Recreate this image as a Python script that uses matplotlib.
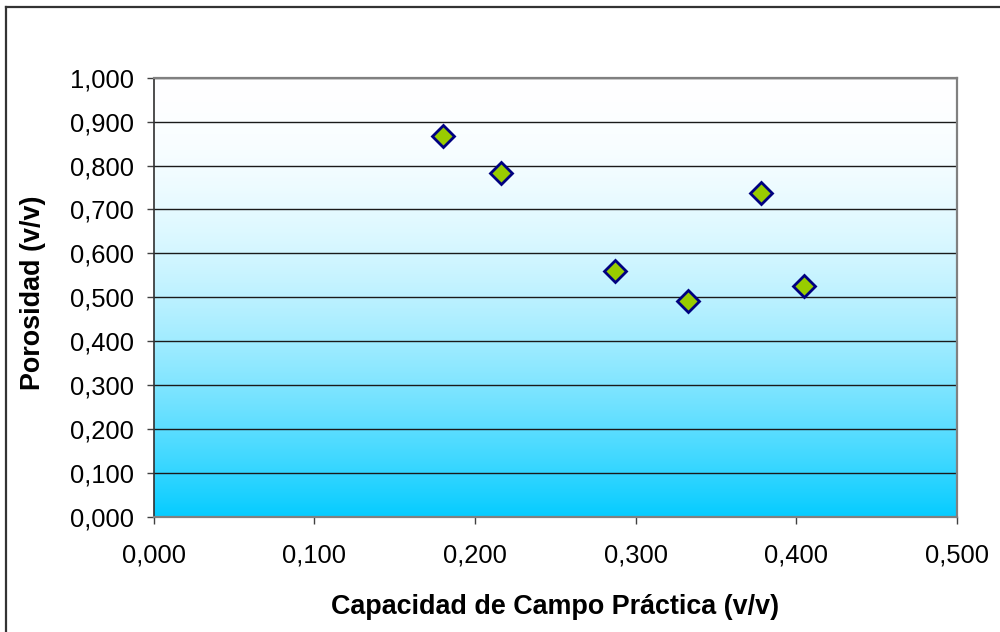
import numpy as np
import matplotlib
matplotlib.use("Agg")
import matplotlib.pyplot as plt
from matplotlib.colors import to_rgb
from matplotlib.lines import Line2D
from matplotlib.ticker import FuncFormatter, MultipleLocator

# Field capacity vs porosity per sample
capacidad_campo = [0.180, 0.216, 0.287, 0.333, 0.378, 0.405]
porosidad = [0.867, 0.782, 0.559, 0.492, 0.738, 0.525]

x_label = "Capacidad de Campo Práctica (v/v)"
y_label = "Porosidad (v/v)"

plt.rcParams["font.family"] = ["Liberation Sans", "DejaVu Sans"]

fig = plt.figure(figsize=(10, 6.32), dpi=100)
fig.patch.set_facecolor("white")

ax = fig.add_axes([0.1537, 0.1824, 0.803, 0.6946])
ax.set_xlim(0, 0.5)
ax.set_ylim(0, 1.0)

# Vertical background gradient: white at the top easing into sky blue
top = np.array(to_rgb("#FFFFFF"))
bottom = np.array(to_rgb("#05CCFF"))
t = np.linspace(0, 1, 512)[:, None]  # 0 = top, 1 = bottom
f = t ** 1.9
grad = top[None, :] * (1 - f) + bottom[None, :] * f
grad = np.repeat(grad[:, None, :], 2, axis=1)
ax.imshow(grad, extent=[0, 0.5, 0, 1.0], aspect="auto", origin="upper",
          zorder=0, interpolation="bilinear")

# Horizontal grid lines
ax.set_axisbelow(True)
ax.yaxis.grid(True, color="#1a1a1a", linewidth=1.0)
ax.xaxis.grid(False)

ax.plot(capacidad_campo, porosidad, linestyle="none", marker="D",
        markersize=11.5, markerfacecolor="#99CC00", markeredgecolor="#000080",
        markeredgewidth=2.0, zorder=3, clip_on=False)

ax.xaxis.set_major_locator(MultipleLocator(0.1))
ax.yaxis.set_major_locator(MultipleLocator(0.1))
fmt = FuncFormatter(lambda v, pos: f"{v:.3f}".replace(".", ","))
ax.xaxis.set_major_formatter(fmt)
ax.yaxis.set_major_formatter(fmt)

ax.tick_params(axis="both", direction="out", length=5, width=1.0,
               color="#404040", labelsize=18.4, labelcolor="black")
ax.tick_params(axis="x", pad=14)
ax.tick_params(axis="y", pad=9.5)

for side in ["top", "right", "bottom"]:
    ax.spines[side].set_color("#808080")
    ax.spines[side].set_linewidth(1.6)
ax.spines["left"].set_color("#303030")
ax.spines["left"].set_linewidth(1.2)

ax.set_xlabel(x_label, fontsize=19.4, fontweight="bold", va="center")
ax.xaxis.set_label_coords(0.5, -0.205)
ax.set_ylabel(y_label, fontsize=19.4, fontweight="bold", va="center", ha="center")
ax.yaxis.set_label_coords(-0.150, 0.51)

# Chart-area border (left and top edges)
fig.add_artist(Line2D([0.006, 0.006], [0.0, 1 - 7 / 632], transform=fig.transFigure,
                      color="#333333", linewidth=1.6))
fig.add_artist(Line2D([0.006, 1.0], [1 - 7 / 632, 1 - 7 / 632], transform=fig.transFigure,
                      color="#333333", linewidth=1.6))

fig.savefig("out.png", dpi=100, facecolor="white")
